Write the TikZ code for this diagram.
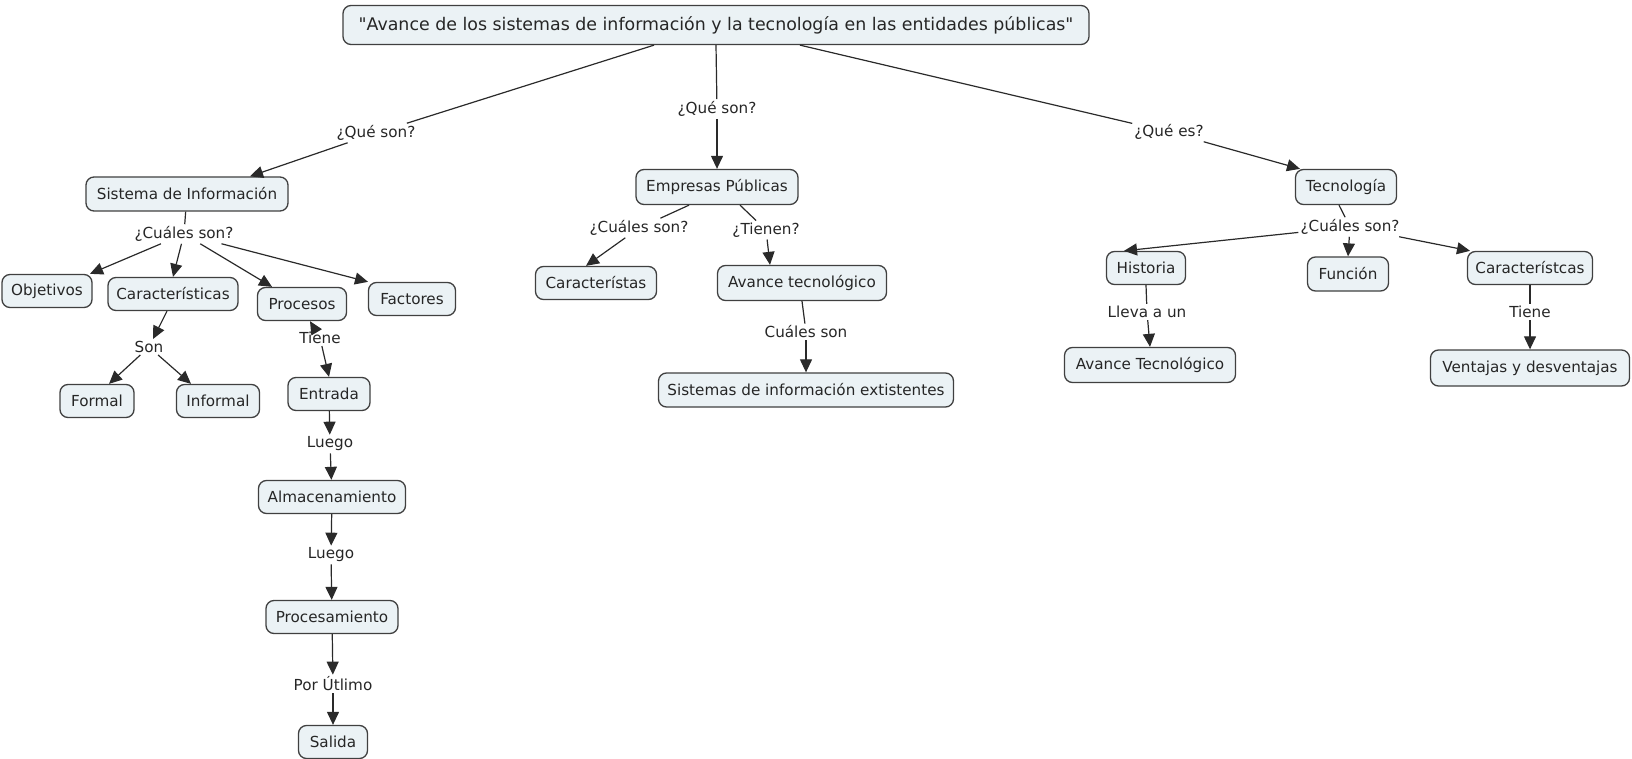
\documentclass[tikz,border=0pt]{standalone}
\usepackage{fontspec}
\newfontfamily\dv{DejaVu Sans}
\usetikzlibrary{arrows.meta,calc}
\definecolor{cfill}{HTML}{EBF2F5}
\definecolor{cborder}{HTML}{404040}
\definecolor{cline}{HTML}{2A2A2A}
\newcommand{\fs}{\dv\fontsize{15.2}{18}\selectfont}
\newcommand{\fst}{\dv\fontsize{17.4}{20}\selectfont}
\begin{document}
\begin{tikzpicture}[x=1pt,y=-1pt,
  concept/.style={draw=cborder, line width=1.3pt, fill=cfill, rounded corners=8pt,
    minimum height=33pt, inner xsep=3pt, font=\fs, text=black!85},
  lp/.style={inner sep=2pt, font=\fs, text=black!85},
  link/.style={draw=cline, line width=1.2pt},
  arr/.style={link, -{Triangle[length=13pt,width=12pt]}}]
\useasboundingbox (0,0) rectangle (1632,759);
% concepts
\node[concept, minimum width=746pt, minimum height=39pt, font=\fst] (t) at (716,25) {"Avance de los sistemas de información y la tecnología en las entidades públicas"};
\node[concept, minimum width=202pt, minimum height=34pt] (si) at (187,194) {Sistema de Información};
\node[concept, minimum width=90pt] (obj) at (47,291) {Objetivos};
\node[concept, minimum width=130pt] (car) at (173,294) {Características};
\node[concept, minimum width=89pt] (pro) at (302,304) {Procesos};
\node[concept, minimum width=87pt] (fac) at (412,299) {Factores};
\node[concept, minimum width=74pt] (for) at (97,401) {Formal};
\node[concept, minimum width=83pt] (inf) at (218,401) {Informal};
\node[concept, minimum width=82pt] (ent) at (329,394) {Entrada};
\node[concept, minimum width=147pt] (alm) at (332,497) {Almacenamiento};
\node[concept, minimum width=132pt] (prc) at (332,617) {Procesamiento};
\node[concept, minimum width=69pt] (sal) at (333,742) {Salida};
\node[concept, minimum width=162pt, minimum height=35pt] (emp) at (717,187) {Empresas Públicas};
\node[concept, minimum width=121pt] (cas) at (596,283) {Característas};
\node[concept, minimum width=169pt, minimum height=35pt] (avt) at (802,283) {Avance tecnológico};
\node[concept, minimum width=295pt, minimum height=34pt] (sie) at (806,390) {Sistemas de información extistentes};
\node[concept, minimum width=101pt, minimum height=35pt] (tec) at (1346,187) {Tecnología};
\node[concept, minimum width=79pt] (his) at (1146,268) {Historia};
\node[concept, minimum width=81pt, minimum height=34pt] (fun) at (1348,274) {Función};
\node[concept, minimum width=125pt] (cst) at (1530,268) {Característcas};
\node[concept, minimum width=171pt, minimum height=35pt] (avT) at (1150,365) {Avance Tecnológico};
\node[concept, minimum width=199pt, minimum height=36pt] (ven) at (1530,368) {Ventajas y desventajas};
% linking phrases
\node[lp] (l1) at (376,133) {¿Qué son?};
\node[lp] (l2) at (717,109) {¿Qué son?};
\node[lp] (l3) at (1169,132) {¿Qué es?};
\node[lp] (l4) at (184,234) {¿Cuáles son?};
\node[lp] (l5) at (149,347) {Son};
\node[lp] (l6) at (320,338) {Tiene};
\node[lp] (l7) at (330,444) {Luego};
\node[lp] (l8) at (331,555) {Luego};
\node[lp] (l9) at (333,684) {Por Útlimo};
\node[lp] (l10) at (639,228) {¿Cuáles son?};
\node[lp] (l11) at (766,230) {¿Tienen?};
\node[lp] (l12) at (806,332) {Cuáles son};
\node[lp] (l13) at (1350,227) {¿Cuáles son?};
\node[lp] (l14) at (1147,312) {Lleva a un};
\node[lp] (l15) at (1530,312) {Tiene};
% connectors
\draw[link] ([xshift=-62pt]t.south) -- (l1);
\draw[arr] (l1) -- ([xshift=63pt]si.north);
\draw[link] (t.south) -- (l2);
\draw[arr] (l2) -- (emp.north);
\draw[link] ([xshift=84pt]t.south) -- (l3);
\draw[arr] (l3) -- ([xshift=-46pt]tec.north);
\draw[link] (si) -- (l4);
\draw[arr] (l4) -- ([xshift=43pt]obj.north);
\draw[arr] (l4) -- (car.north);
\draw[arr] (l4) -- ([xshift=-30pt]pro.north);
\draw[arr] (l4) -- ([xshift=-44pt]fac.north);
\draw[arr] ([xshift=-6pt]car.south) -- (l5);
\draw[arr] (l5) -- ([xshift=12pt]for.north);
\draw[arr] (l5) -- ([xshift=-27pt]inf.north);
\draw[arr] (l6) -- ([xshift=8pt]pro.south);
\draw[arr] (l6) -- (ent.north);
\draw[arr] (ent) -- (l7);
\draw[arr] (l7) -- (alm);
\draw[arr] (alm) -- (l8);
\draw[arr] (l8) -- (prc);
\draw[arr] (prc) -- (l9);
\draw[arr] (l9) -- (sal);
\draw[link] ([xshift=-28pt]emp.south) -- (l10);
\draw[arr] (l10) -- ([xshift=-10pt]cas.north);
\draw[link] ([xshift=23pt]emp.south) -- (l11);
\draw[arr] (l11) -- ([xshift=-32pt]avt.north);
\draw[link] (avt.south) -- (l12);
\draw[arr] (l12) -- (sie.north);
\draw[link] ([xshift=-7pt]tec.south) -- (l13);
\draw[arr] (l13) -- ([xshift=-22pt]his.north);
\draw[arr] (l13) -- (fun.north);
\draw[arr] (l13) -- ([xshift=-60pt]cst.north);
\draw[link] (his.south) -- (l14);
\draw[arr] (l14) -- (avT.north);
\draw[link] (cst.south) -- (l15);
\draw[arr] (l15) -- (ven.north);
\end{tikzpicture}
\end{document}
